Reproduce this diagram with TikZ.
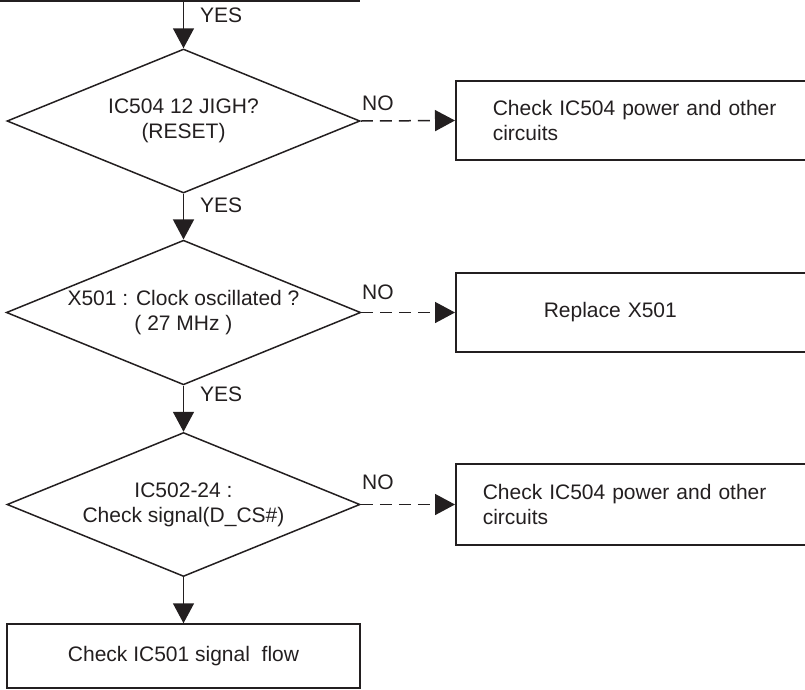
\documentclass[tikz,border=0pt]{standalone}
\usepackage{fontspec}
\setmainfont{Liberation Sans}
\usetikzlibrary{shapes.geometric,arrows.meta}
\definecolor{ink}{RGB}{35,31,32}
\begin{document}
\begin{tikzpicture}[x=1pt,y=-1pt,
  every node/.style={font=\fontsize{21}{25}\selectfont, text=ink},
  dec/.style={draw=ink, line width=1.5pt, shape=diamond, aspect=2.45,
    minimum width=353pt, minimum height=144pt, inner sep=0pt, align=center},
  boxr/.style={draw=ink, line width=1.5pt, shape=rectangle, anchor=west,
    minimum height=80pt, align=left},
  lbl/.style={anchor=west, inner sep=0pt},
  arr/.style={draw=ink, line width=1.5pt, -{Triangle[length=20pt,width=21pt]}},
  darr/.style={arr, dash pattern=on 12pt off 7pt},
]
\useasboundingbox (0,0) rectangle (805,689);
\clip (0,0) rectangle (805,689);

% cut-off box at top
\node[draw=ink, line width=1.5pt, anchor=south east, minimum width=380pt,
  minimum height=60pt, inner sep=0pt] (top) at (360,1.5) {};

% decisions
\node[dec] (d1) at (183.5,121) {IC504 12 JIGH?\\(RESET)};
\node[dec] (d2) at (183.5,312.5) {\raisebox{3pt}{\begin{tabular}{@{}c@{}}X501 : Clock oscillated ?\\( 27 MHz )\end{tabular}}};
\node[dec] (d3) at (183.5,504.5) {\raisebox{7pt}{\begin{tabular}{@{}c@{}}IC502-24 :\\Check signal(D\_CS\#)\end{tabular}}};

% right boxes
\node[boxr, inner xsep=37pt, text width=300pt, minimum height=79pt] (b1) at (455,120.5)
  {Check IC504 power and other\\circuits};
\node[boxr, inner xsep=88pt, text width=250pt, minimum height=79pt] (b2) at (455,312.5)
  {Replace X501};
\node[boxr, inner xsep=27pt, text width=310pt, minimum height=81pt] (b3) at (455,504.5)
  {Check IC504 power and other\\circuits};

% final box
\node[draw=ink, line width=1.5pt, minimum width=353pt, minimum height=64pt,
  inner sep=0pt] (b4) at (183.5,656) {Check IC501 signal\ \ flow};

% connectors
\draw[arr] (top.south -| d1.north) -- (d1.north);
\draw[arr] (d1.south) -- (d2.north);
\draw[arr] (d2.south) -- (d3.north);
\draw[arr] (d3.south) -- (b4.north);
\draw[darr] (d1.east) -- (b1.west);
\draw[darr] (d2.east) -- (b2.west);
\draw[darr] (d3.east) -- (b3.west);

% labels
\node[lbl] (y1) at (200,15) {YES};
\node[lbl] (y2) at (200,205) {YES};
\node[lbl] (y3) at (200,394) {YES};
\node[lbl] (n1) at (362,103) {NO};
\node[lbl] (n2) at (362,292) {NO};
\node[lbl] (n3) at (362,482) {NO};
\end{tikzpicture}
\end{document}
